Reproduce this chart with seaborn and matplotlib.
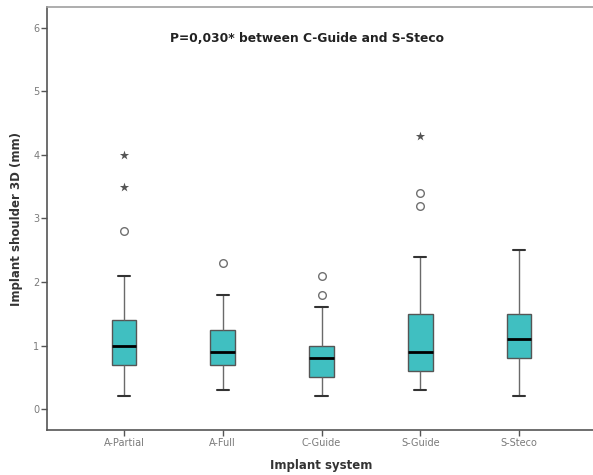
import numpy as np
import pandas as pd
import matplotlib
matplotlib.use("Agg")
import matplotlib.pyplot as plt
import seaborn as sns

categories = ["A-Partial", "A-Full", "C-Guide", "S-Guide", "S-Steco"]
whisker_low = [0.2, 0.3, 0.2, 0.3, 0.2]
q1 = [0.7, 0.7, 0.5, 0.6, 0.8]
median = [1.0, 0.9, 0.8, 0.9, 1.1]
q3 = [1.4, 1.25, 1.0, 1.5, 1.5]
whisker_high = [2.1, 1.8, 1.6, 2.4, 2.5]

circle_groups = ["A-Partial", "A-Full", "C-Guide", "C-Guide", "S-Guide", "S-Guide"]
circle_values = [2.8, 2.3, 1.8, 2.1, 3.2, 3.4]
star_groups = ["A-Partial", "A-Partial", "S-Guide"]
star_values = [3.5, 4.0, 4.3]

yticks = [0, 1, 2, 3, 4, 5, 6]

rows = []
for i, c in enumerate(categories):
    for v in (whisker_low[i], q1[i], median[i], q3[i], whisker_high[i]):
        rows.append((c, v))
df = pd.DataFrame(rows, columns=["system", "value"])

sns.set_style("white")
plt.rcParams["font.family"] = ["DejaVu Sans"]

fig = plt.figure(figsize=(5.93, 4.75), dpi=100)
ax = fig.add_axes([47 / 593, 45 / 475, (596 - 47) / 593, (430 - 7) / 475])

teal = "#40bfc1"
sns.boxplot(data=df, x="system", y="value", order=categories, whis=np.inf,
            width=0.25, color=teal, saturation=1, linewidth=1.0,
            linecolor="#555555",
            medianprops=dict(color="black", linewidth=2.0),
            whiskerprops=dict(color="#6a6a6a", linewidth=1.0),
            capprops=dict(color="#333333", linewidth=1.5),
            ax=ax)

sns.stripplot(x=circle_groups, y=circle_values, order=categories, jitter=False,
              color="white", edgecolor="#707070", linewidth=1.0, size=5.5,
              marker="o", ax=ax)
sns.stripplot(x=star_groups, y=star_values, order=categories, jitter=False,
              color="#555555", linewidth=0, size=7, marker="*", ax=ax)

ax.set_xlim(-0.78, 4.78)
ax.set_ylim(-0.33, 6.33)
ax.set_yticks(yticks)
ax.set_yticklabels([str(t) for t in yticks])

for s in ["left", "bottom", "top"]:
    ax.spines[s].set_color("#555555")
    ax.spines[s].set_linewidth(1.2)
ax.spines["top"].set_color("#a0a0a0")
ax.spines["right"].set_visible(False)

ax.tick_params(axis="both", which="both", direction="out", length=4,
               width=1, color="#555555", labelcolor="#7a7a7a", labelsize=7,
               left=True, bottom=True, pad=1.5)

ax.set_xlabel("Implant system", fontsize=8.5, fontweight="bold", color="#333333", labelpad=8)
ax.set_ylabel("Implant shoulder 3D (mm)", fontsize=8.5, fontweight="bold", color="#333333", labelpad=7)

ax.text(1.85, 5.84, "P=0,030* between C-Guide and S-Steco", ha="center", va="center",
        fontsize=8.8, fontweight="bold", color="#222222")

fig.savefig("out.png", dpi=100)
